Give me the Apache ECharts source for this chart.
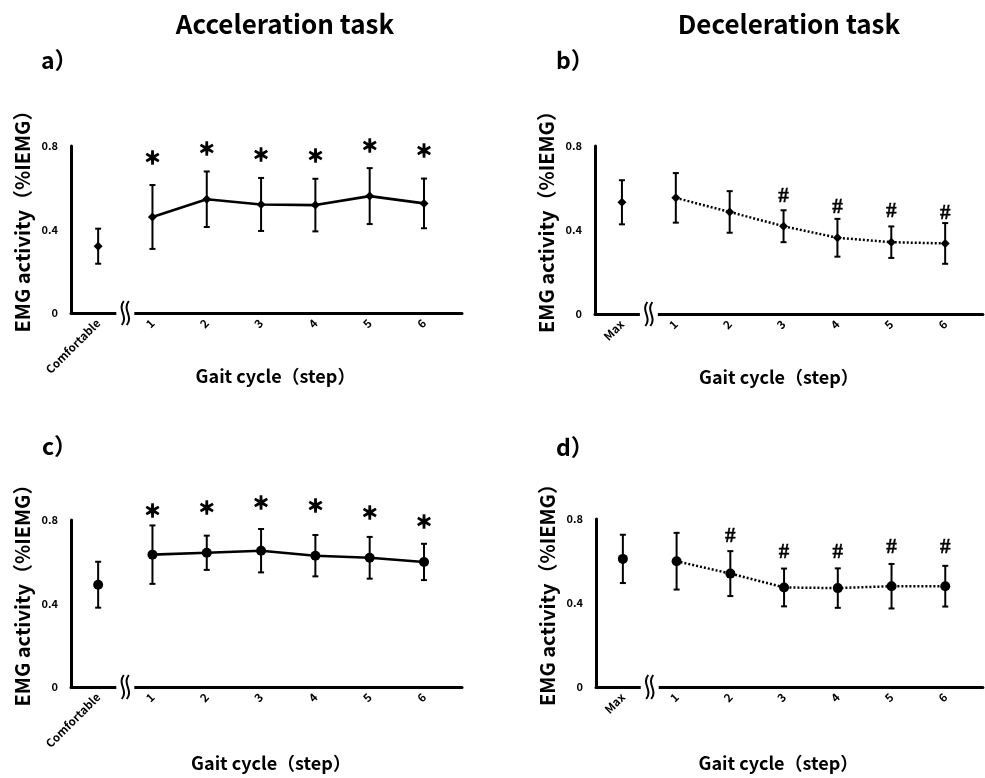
<!DOCTYPE html>
<html>
<head>
<meta charset="utf-8">
<script src="https://cdn.jsdelivr.net/npm/echarts@6/dist/echarts.min.js"></script>
<style>
  html, body { margin: 0; padding: 0; background: #fff; }
  #chart { width: 985px; height: 778px; }
</style>
</head>
<body>
<div id="chart"></div>
<script>
// x positions: 0 = reference condition, 1..6 = gait cycle steps
const stepX = [1, 2, 3, 4, 5, 6];
const accelLabels = ['Comfortable', '1', '2', '3', '4', '5', '6'];
const decelLabels = ['Max', '1', '2', '3', '4', '5', '6'];

// a) acceleration task
const aBase = [0.32, 0.084];
const aMean = [0.46, 0.545, 0.52, 0.517, 0.56, 0.525];
const aSd = [0.153, 0.133, 0.127, 0.126, 0.134, 0.119];
const aSigX = [1, 2, 3, 4, 5, 6];
const aSigY = [0.747, 0.79, 0.757, 0.752, 0.80, 0.776];

// b) deceleration task
const bBase = [0.532, 0.105];
const bMean = [0.553, 0.486, 0.418, 0.363, 0.342, 0.336];
const bSd = [0.118, 0.099, 0.076, 0.09, 0.075, 0.097];
const bSigX = [3, 4, 5, 6];
const bSigY = [0.557, 0.509, 0.49, 0.48];

// c) acceleration task
const cBase = [0.49, 0.11];
const cMean = [0.634, 0.643, 0.653, 0.629, 0.619, 0.599];
const cSd = [0.14, 0.082, 0.104, 0.099, 0.10, 0.087];
const cSigX = [1, 2, 3, 4, 5, 6];
const cSigY = [0.845, 0.861, 0.883, 0.867, 0.835, 0.792];

// d) deceleration task
const dBase = [0.61, 0.115];
const dMean = [0.599, 0.54, 0.474, 0.471, 0.48, 0.48];
const dSd = [0.135, 0.107, 0.09, 0.094, 0.106, 0.097];
const dSigX = [2, 3, 4, 5, 6];
const dSigY = [0.718, 0.639, 0.639, 0.665, 0.663];

const yTicks = [0, 0.4, 0.8];

const FONT = '"Noto Sans CJK JP", "Noto Sans", sans-serif';

let myChart = echarts.init(document.getElementById('chart'));

const grids = [
  {left: 71, top: 146, width: 391, height: 167},
  {left: 595, top: 146, width: 391, height: 168},
  {left: 71, top: 520, width: 391, height: 167},
  {left: 596, top: 519, width: 391, height: 168}
];

function xAxisFor(i, labels, pad, gap) {
  return {
    gridIndex: i,
    type: 'value',
    min: -0.5,
    max: 6.7,
    interval: 0.5,
    name: 'Gait cycle（step）',
    nameLocation: 'middle',
    nameGap: gap,
    nameMoveOverlap: false,
    nameTextStyle: {color: '#000', fontSize: 18, fontWeight: 'bold', fontFamily: FONT, padding: pad},
    splitLine: {show: false},
    axisTick: {show: false},
    axisLine: {onZero: false, lineStyle: {color: '#000', width: 3}},
    axisLabel: {
      rotate: 45,
      margin: 8,
      color: '#000',
      fontSize: 11.5,
      fontWeight: 'bold',
      fontFamily: FONT,
      showMinLabel: true,
      showMaxLabel: true,
      formatter: function (v) {
        return Number.isInteger(v) && v >= 0 && v < labels.length ? labels[v] : '';
      }
    }
  };
}

function yAxisFor(i) {
  return {
    gridIndex: i,
    type: 'value',
    min: yTicks[0],
    max: yTicks[yTicks.length - 1],
    interval: 0.4,
    name: 'EMG activity（%IEMG）',
    nameLocation: 'middle',
    nameRotate: 90,
    nameGap: 39,
    nameMoveOverlap: false,
    nameTextStyle: {color: '#000', fontSize: 20, fontWeight: 'bold', fontFamily: FONT, padding: [0, 0, 0, 26]},
    splitLine: {show: false},
    axisTick: {show: false},
    axisLine: {onZero: false, lineStyle: {color: '#000', width: 3}},
    axisLabel: {
      margin: 13,
      color: '#000',
      fontSize: 11,
      fontWeight: 'bold',
      fontFamily: FONT,
      formatter: function (v) { return v === 0 ? '0' : v.toFixed(1); }
    }
  };
}

function errorBars(i, base, mean, sd) {
  let data = [[0, base[0], base[1]]];
  stepX.forEach((x, k) => data.push([x, mean[k], sd[k]]));
  return {
    type: 'custom',
    xAxisIndex: i,
    yAxisIndex: i,
    z: 2,
    clip: false,
    data: data,
    renderItem: function (params, api) {
      let x = api.value(0), m = api.value(1), s = api.value(2);
      let top = api.coord([x, m + s]);
      let bot = api.coord([x, m - s]);
      let st = {stroke: '#000', lineWidth: 2};
      return {
        type: 'group',
        children: [
          {type: 'line', shape: {x1: top[0], y1: top[1], x2: bot[0], y2: bot[1]}, style: st},
          {type: 'line', shape: {x1: top[0] - 3, y1: top[1], x2: top[0] + 3, y2: top[1]}, style: st},
          {type: 'line', shape: {x1: bot[0] - 3, y1: bot[1], x2: bot[0] + 3, y2: bot[1]}, style: st}
        ]
      };
    }
  };
}

function meanLine(i, mean, symbol, size, dashed) {
  return {
    type: 'line',
    xAxisIndex: i,
    yAxisIndex: i,
    z: 3,
    data: stepX.map((x, k) => [x, mean[k]]),
    symbol: symbol,
    symbolSize: size,
    showSymbol: true,
    itemStyle: {color: '#000'},
    lineStyle: {color: '#000', width: dashed ? 2.5 : 2.6, type: dashed ? [2, 2] : 'solid'},
    animation: false
  };
}

function basePoint(i, base, symbol, size) {
  return {
    type: 'scatter',
    xAxisIndex: i,
    yAxisIndex: i,
    z: 3,
    data: [[0, base[0]]],
    symbol: symbol,
    symbolSize: size,
    itemStyle: {color: '#000', opacity: 1}
  };
}

function sigMarks(i, xs, ys, mark) {
  return {
    type: 'custom',
    xAxisIndex: i,
    yAxisIndex: i,
    clip: false,
    z: 4,
    data: xs.map((x, k) => [x, ys[k]]),
    renderItem: function (params, api) {
      let p = api.coord([api.value(0), api.value(1)]);
      let isStar = mark === '＊';
      return {
        type: 'text',
        x: p[0],
        y: p[1],
        style: {
          text: mark,
          fill: '#000',
          stroke: '#000',
          lineWidth: isStar ? 1.4 : 0.4,
          fontSize: isStar ? 17 : 21,
          fontWeight: 'bold',
          fontFamily: isStar ? FONT : '"Liberation Serif", serif',
          align: 'center',
          verticalAlign: 'middle'
        }
      };
    }
  };
}

// axis break between the reference condition and step 1
function axisBreak(i) {
  return {
    type: 'custom',
    xAxisIndex: i,
    yAxisIndex: i,
    clip: false,
    z: 5,
    data: [[(0 + stepX[0]) / 2, 0]],
    renderItem: function (params, api) {
      let p = api.coord([api.value(0), api.value(1)]);
      let cx = p[0], cy = p[1];
      let st = {stroke: '#000', lineWidth: 2, fill: null};
      let wave = function (dx) {
        return {
          type: 'bezierCurve',
          shape: {x1: cx + dx + 1, y1: cy - 12, x2: cx + dx - 1, y2: cy + 12,
                  cpx1: cx + dx - 6, cpy1: cy - 3, cpx2: cx + dx + 6, cpy2: cy + 3},
          style: st
        };
      };
      return {
        type: 'group',
        children: [
          {type: 'rect', shape: {x: cx - 9, y: cy - 3, width: 18, height: 6}, style: {fill: '#fff'}},
          wave(-2.5),
          wave(2.5)
        ]
      };
    }
  };
}

function label(text, x, y, size, align) {
  return {
    text: text,
    left: x,
    top: y,
    textAlign: align || 'left',
    textStyle: {color: '#000', fontSize: size, fontWeight: 'bold', fontFamily: FONT}
  };
}

myChart.setOption({
  backgroundColor: '#fff',
  animation: false,
  title: [
    label('Acceleration task', 280, 6, 26, 'center'),
    label('Deceleration task', 784, 6, 26, 'center'),
    label('a）', 36, 44, 23),
    label('b）', 551, 44, 23),
    label('c）', 37, 430, 23),
    label('d）', 551, 431, 23)
  ],
  grid: grids,
  xAxis: [
    xAxisFor(0, accelLabels, [0, 0, 0, 18], 54),
    xAxisFor(1, decelLabels, [0, 20, 0, 0], 54),
    xAxisFor(2, accelLabels, [0, 0, 0, 9], 67),
    xAxisFor(3, decelLabels, [0, 22, 0, 0], 67)
  ],
  yAxis: [yAxisFor(0), yAxisFor(1), yAxisFor(2), yAxisFor(3)],
  series: [
    errorBars(0, aBase, aMean, aSd),
    meanLine(0, aMean, 'diamond', 9, false),
    basePoint(0, aBase, 'diamond', 9),
    sigMarks(0, aSigX, aSigY, '＊'),
    axisBreak(0),

    errorBars(1, bBase, bMean, bSd),
    meanLine(1, bMean, 'diamond', 9, true),
    basePoint(1, bBase, 'diamond', 9),
    sigMarks(1, bSigX, bSigY, '#'),
    axisBreak(1),

    errorBars(2, cBase, cMean, cSd),
    meanLine(2, cMean, 'circle', 10, false),
    basePoint(2, cBase, 'circle', 10),
    sigMarks(2, cSigX, cSigY, '＊'),
    axisBreak(2),

    errorBars(3, dBase, dMean, dSd),
    meanLine(3, dMean, 'circle', 10, true),
    basePoint(3, dBase, 'circle', 10),
    sigMarks(3, dSigX, dSigY, '#'),
    axisBreak(3)
  ]
});
</script>
</body>
</html>
